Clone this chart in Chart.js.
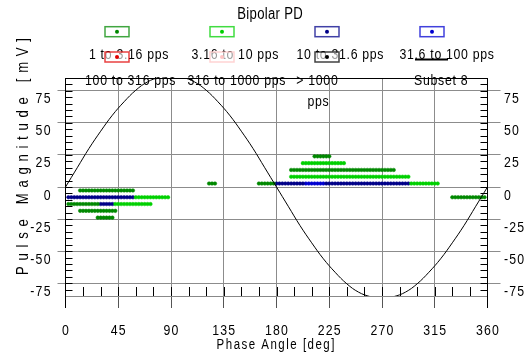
<!DOCTYPE html>
<html>
<head>
<meta charset="utf-8">
<script src="https://cdn.jsdelivr.net/npm/chart.js@4.4.1/dist/chart.umd.min.js"></script>
<style>
  html, body { margin: 0; padding: 0; background: #fff; }
  #wrap { width: 525px; height: 356px; }
</style>
</head>
<body>
<div id="wrap"><canvas id="prpd"></canvas></div>
<script>
const FONT = "'Liberation Sans', Arial, sans-serif";
const NARROW = 0.82; // horizontal squeeze, gives a narrow face

const chartTitle = 'Bipolar PD';
const xTitle = 'Phase Angle [deg]';
const yTitle = 'Pulse Magnitude [mV]';

const phaseTicks = [0, 45, 90, 135, 180, 225, 270, 315, 360];
const magTicks = [-75, -50, -25, 0, 25, 50, 75];

const seriesLabels = ['1 to 3.16 pps', '3.16 to 10 pps', '10 to 31.6 pps', '31.6 to 100 pps',
  '100 to 316 pps', '316 to 1000 pps', '> 1000 pps', 'Subset 8'];
const seriesColors = ['#008800', '#00d000', '#000088', '#0000d0', '#e00000', '#ffc4c4', '#000000', '#000000'];

// pulse counts by rate class: [magnitude mV, [phase bins deg]]
const rate1 = [
  [-2.7, [12.5, 15, 17.5, 20, 22.5, 25, 27.5, 30, 32.5, 35, 37.5, 40, 42.5, 45, 47.5, 50, 52.5, 55, 57.5]],
  [-13.3, [2.5, 5, 7.5, 10, 12.5, 15, 17.5, 20, 22.5, 25, 27.5]],
  [-18.6, [12.5, 15, 17.5, 20, 22.5, 25, 27.5, 30, 32.5, 35, 37.5, 40, 42.5]],
  [-23.9, [27.5, 30, 32.5, 35, 37.5, 40]],
  [2.7, [122.5, 125, 127.5]],
  [2.7, [165, 167.5, 170, 172.5, 175, 177.5]],
  [13.3, [192.5, 195, 197.5, 200, 202.5, 205, 207.5, 210, 212.5, 215, 217.5, 220, 222.5, 225, 227.5, 230, 232.5, 235,
          237.5, 240, 242.5, 245, 247.5, 250, 252.5, 255, 257.5, 260, 262.5, 265, 267.5, 270, 272.5, 275, 277.5, 280]],
  [23.9, [212.5, 215, 217.5, 220, 222.5, 225]],
  [-8, [330, 332.5, 335, 337.5, 340, 342.5, 345, 347.5, 350, 352.5, 355, 357.5]],
];
const rate2 = [
  [-8, [60, 62.5, 65, 67.5, 70, 72.5, 75, 77.5, 80, 82.5, 85, 87.5]],
  [-13.3, [42.5, 45, 47.5, 50, 52.5, 55, 57.5, 60, 62.5, 65, 67.5, 70, 72.5]],
  [8, [192.5, 195, 197.5, 200, 202.5, 205, 207.5, 210, 212.5, 215, 217.5, 220, 222.5, 225, 227.5, 230, 232.5,
       235, 237.5, 240, 242.5, 245, 247.5, 250, 252.5, 255, 257.5, 260, 262.5, 265, 267.5, 270, 272.5, 275,
       277.5, 280, 282.5, 285, 287.5, 290, 292.5]],
  [18.6, [202.5, 205, 207.5, 210, 212.5, 215, 217.5, 220, 222.5, 225, 227.5, 230, 232.5, 235, 237.5]],
  [2.7, [295, 297.5, 300, 302.5, 305, 307.5, 310, 312.5, 315, 317.5]],
];
const rate3 = [
  [-8, [2.5, 5, 7.5, 10, 12.5, 15, 17.5, 20, 22.5, 25, 27.5, 30, 32.5, 35, 37.5, 40, 42.5, 45, 47.5, 50, 52.5, 55, 57.5]],
  [-13.3, [30, 32.5, 35, 37.5, 40]],
  [2.7, [180, 182.5, 185, 187.5, 190, 192.5, 195, 197.5, 200, 202.5,
         222.5, 225, 227.5, 230, 232.5, 235, 237.5, 240, 242.5, 245, 247.5, 250, 252.5, 255, 257.5, 260, 262.5,
         265, 267.5, 270, 272.5, 275, 277.5, 280, 282.5, 285, 287.5, 290, 292.5]],
];
const rate4 = [
  [2.7, [205, 207.5, 210, 212.5, 215, 217.5, 220]],
];
const rate5 = [];
const rate6 = [];
const rate7 = [];

// supply voltage reference, phase deg / relative magnitude
const refPhase = [0, 10, 20, 30, 40, 50, 60, 70, 80, 90, 100, 110, 120, 130, 140, 150, 160, 170, 180,
  190, 200, 210, 220, 230, 240, 250, 260, 270, 280, 290, 300, 310, 320, 330, 340, 350, 360];
const refMag = [0, 15, 30, 43.5, 56, 66.5, 75.5, 82, 85.5, 87, 85.5, 82, 75.5, 66.5, 56, 43.5, 30, 15, 0,
  -15, -30, -43.5, -56, -66.5, -75.5, -82, -85.5, -87, -85.5, -82, -75.5, -66.5, -56, -43.5, -30, -15, 0];

const rows = [rate1, rate2, rate3, rate4, rate5, rate6, rate7];
const toPoints = r => r.flatMap(([mag, phases]) => phases.map(p => ({ x: p, y: mag })));

const datasets = rows.map((r, i) => ({
  type: 'scatter',
  label: seriesLabels[i],
  data: toPoints(r),
  backgroundColor: seriesColors[i],
  borderColor: seriesColors[i],
  borderWidth: 0.5,
  pointRadius: 1.8,
  order: i,
}));
datasets.push({
  type: 'line',
  label: seriesLabels[7],
  data: refPhase.map((p, i) => ({ x: p, y: refMag[i] })),
  borderColor: seriesColors[7],
  borderWidth: 1,
  pointRadius: 0,
  tension: 0.4,
  fill: false,
  order: -1,
});

const legendPos = {
  boxX: [117, 222, 327, 432],
  boxY: [31.7, 57],
  labelX: [[128.7, 235, 340, 446.7], [130.3, 236.5, 317, 440.8]],
  labelY: [58.8, 84.5],
};

function narrowText(ctx, text, x, y, size, spacing, align) {
  ctx.save();
  ctx.font = `${size}px ${FONT}`;
  ctx.letterSpacing = (spacing / NARROW).toFixed(2) + 'px';
  ctx.textAlign = align;
  ctx.textBaseline = 'alphabetic';
  const shift = align === 'center' ? spacing / 2 : align === 'right' ? spacing : 0;
  ctx.translate(x + shift, y);
  ctx.scale(NARROW, 1);
  ctx.fillText(text, 0, 0);
  ctx.restore();
}

const decorations = {
  id: 'decorations',
  afterDraw(chart) {
    const { ctx, chartArea: a, scales } = chart;
    ctx.save();
    // frame pieces that chart.js does not draw
    ctx.strokeStyle = '#000';
    ctx.lineWidth = 1;
    ctx.beginPath();
    ctx.moveTo(a.left, a.top + 0.5); ctx.lineTo(a.right, a.top + 0.5);
    ctx.moveTo(a.left, a.bottom); ctx.lineTo(a.left, a.bottom + 12);
    ctx.moveTo(a.right, a.bottom); ctx.lineTo(a.right, a.bottom + 12);
    // minor ticks
    for (let v = -80; v <= 80; v += 5) {
      const py = Math.round(scales.y.getPixelForValue(v)) + 0.5;
      ctx.moveTo(a.left, py); ctx.lineTo(a.left + 7, py);
      ctx.moveTo(a.right, py); ctx.lineTo(a.right - 7, py);
    }
    for (let p = 15; p < 360; p += 15) {
      const px = Math.round(scales.x.getPixelForValue(p)) + 0.5;
      ctx.moveTo(px, a.bottom); ctx.lineTo(px, a.bottom - 9);
    }
    ctx.stroke();

    ctx.fillStyle = '#000';
    // tick labels
    scales.x.ticks.forEach(t => narrowText(ctx, String(t.value), scales.x.getPixelForValue(t.value), 335, 15, 1.2, 'center'));
    scales.y.ticks.forEach(t => narrowText(ctx, String(t.value), 50.5, scales.y.getPixelForValue(t.value) + 12.5, 15, 1.2, 'right'));
    scales.y2.ticks.forEach(t => narrowText(ctx, String(t.value), 504, scales.y2.getPixelForValue(t.value) + 12.5, 15, 1.2, 'left'));

    // titles
    narrowText(ctx, chartTitle, 270, 19, 16, 0.3, 'center');
    narrowText(ctx, xTitle, 275.5, 348.5, 14, 1.5, 'center');

    ctx.save();
    ctx.font = `16px ${FONT}`;
    ctx.letterSpacing = '0px';
    const natural = ctx.measureText(yTitle).width * NARROW;
    const spacing = (237 - natural) / (yTitle.length - 1);
    ctx.translate(28, 156.5);
    ctx.rotate(-Math.PI / 2);
    narrowText(ctx, yTitle, 0, 0, 16, spacing, 'center');
    ctx.restore();

    // legend
    const drawLabel = (i) => {
      const row = Math.floor(i / 4), col = i % 4;
      const lx = legendPos.labelX[row][col], ly = legendPos.labelY[row];
      const text = chart.data.datasets[i].label;
      if (text === '> 1000 pps') {
        narrowText(ctx, '> 1000', lx, ly, 15, 0.7, 'center');
        narrowText(ctx, 'pps', lx + 1, ly + 21, 15, 0.7, 'center');
      } else {
        narrowText(ctx, text, lx, ly, 15, 0.7, 'center');
      }
    };
    const drawKey = (i) => {
      const row = Math.floor(i / 4), col = i % 4;
      const bx = legendPos.boxX[col], by = legendPos.boxY[row];
      const color = chart.data.datasets[i].borderColor;
      if (chart.data.datasets[i].type === 'line') {
        ctx.strokeStyle = color;
        ctx.lineWidth = 2;
        ctx.beginPath();
        ctx.moveTo(bx - 17, by + 2.5); ctx.lineTo(bx + 16, by + 2.5);
        ctx.stroke();
        return;
      }
      ctx.fillStyle = 'rgba(255,255,255,0.6)';
      ctx.fillRect(bx - 12, by - 5, 24, 10);
      ctx.globalAlpha = 0.75;
      ctx.strokeStyle = color;
      ctx.lineWidth = 1.5;
      ctx.strokeRect(bx - 12, by - 5, 24, 10);
      ctx.globalAlpha = 1;
      ctx.fillStyle = color;
      ctx.beginPath();
      ctx.arc(bx, by, 2, 0, Math.PI * 2);
      ctx.fill();
      ctx.fillStyle = '#000';
    };
    for (let i = 0; i < 4; i++) drawKey(i);
    for (let i = 0; i < 4; i++) drawLabel(i);
    for (let i = 4; i < 8; i++) drawKey(i);
    ctx.fillStyle = '#000';
    for (let i = 4; i < 8; i++) drawLabel(i);
    ctx.restore();
  }
};

new Chart(document.getElementById('prpd'), {
  data: { datasets },
  options: {
    responsive: true,
    maintainAspectRatio: false,
    animation: false,
    layout: { padding: { top: 78, left: 0, right: 0, bottom: 0 } },
    plugins: { legend: { display: false }, tooltip: { enabled: false } },
    scales: {
      x: {
        type: 'linear',
        position: 'bottom',
        min: 0,
        max: 360,
        afterBuildTicks: s => { s.ticks = phaseTicks.map(v => ({ value: v })); },
        afterFit: s => { s.height = 60; },
        grid: { color: '#8c8c8c', tickLength: 12, tickColor: '#555' },
        border: { color: '#888', width: 1 },
        ticks: { display: false },
      },
      y: {
        type: 'linear',
        position: 'left',
        min: -85,
        max: 85,
        afterBuildTicks: s => { s.ticks = magTicks.map(v => ({ value: v })); },
        afterFit: s => { s.width = 65.5; },
        grid: { color: '#8c8c8c', tickLength: 8 },
        border: { color: '#000', width: 1 },
        ticks: { display: false },
      },
      y2: {
        type: 'linear',
        position: 'right',
        min: -85,
        max: 85,
        afterBuildTicks: s => { s.ticks = magTicks.map(v => ({ value: v })); },
        afterFit: s => { s.width = 37.5; },
        grid: { color: '#8c8c8c', tickLength: 13, drawOnChartArea: false },
        border: { color: '#000', width: 1 },
        ticks: { display: false },
      },
    },
  },
  plugins: [decorations],
});
</script>
</body>
</html>
